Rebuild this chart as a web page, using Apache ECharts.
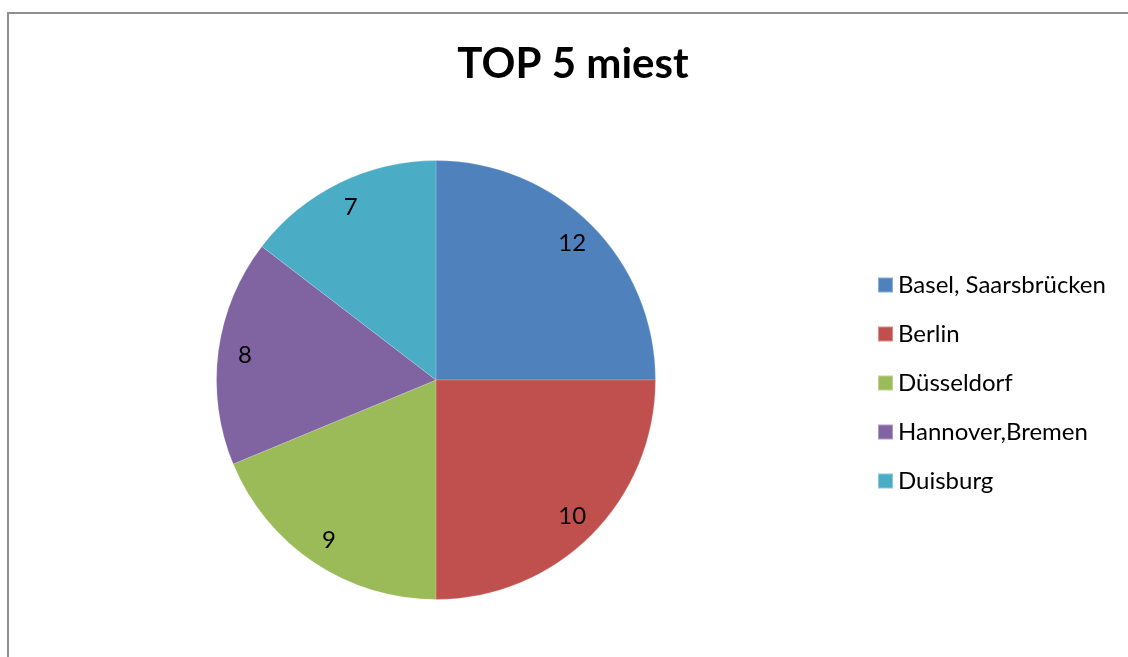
<!DOCTYPE html>
<html>
<head>
<meta charset="utf-8">
<script src="https://cdn.jsdelivr.net/npm/echarts@6/dist/echarts.min.js"></script>
<style>
  html, body { margin: 0; padding: 0; background: #fff; overflow: hidden; }
  #chart { position: absolute; left: 0; top: 0; width: 1128px; height: 657px; }
</style>
</head>
<body>
<div id="chart"></div>
<script>
// Data
const titleText = 'TOP 5 miest';
const categories = ['Basel, Saarsbrücken', 'Berlin', 'Düsseldorf', 'Hannover,Bremen', 'Duisburg'];
// slice sizes as drawn in the picture (angles 90°, 90°, 67.5°, 60°, 52.5°)
const values = [12, 12, 9, 8, 7];
// data labels as printed on the slices
const dataLabels = ['12', '10', '9', '8', '7'];
const colors = ['#4F81BD', '#C0504D', '#9BBB59', '#8064A2', '#4BACC6'];

const FONT = 'Lato, "Open Sans", sans-serif';
const chart = echarts.init(document.getElementById('chart'), null, { renderer: 'canvas' });

const pieData = categories.map((c, i) => ({ name: c, value: values[i], itemStyle: { color: colors[i] } }));
const labelData = categories.map((c, i) => ({ name: c, value: values[i], label: { formatter: dataLabels[i] } }));

chart.setOption({
  animation: false,
  backgroundColor: '#fff',
  graphic: [{
    type: 'polyline',
    silent: true,
    shape: { points: [[8, 700], [8, 13], [1140, 13]] },
    style: { stroke: '#8f8f8f', lineWidth: 2, fill: null }
  }],
  title: {
    text: titleText,
    left: 568,
    top: 38,
    textAlign: 'center',
    textStyle: { fontFamily: FONT, fontWeight: 'bold', fontSize: 42, color: '#000' }
  },
  legend: {
    orient: 'vertical',
    left: 872,
    top: 268,
    itemWidth: 15,
    itemHeight: 15,
    itemGap: 25,
    icon: 'rect',
    selectedMode: false,
    data: categories,
    textStyle: { fontFamily: FONT, fontSize: 24, lineHeight: 23, color: '#000' }
  },
  series: [
    {
      type: 'pie',
      center: [436, 380],
      radius: [0, 219.5],
      startAngle: 90,
      clockwise: true,
      silent: true,
      label: { show: false },
      labelLine: { show: false },
      itemStyle: { borderColor: 'rgba(255,255,255,0.35)', borderWidth: 0.5 },
      data: pieData
    },
    {
      type: 'pie',
      center: [436, 380],
      radius: [160, 219.5],
      startAngle: 90,
      clockwise: true,
      silent: true,
      legendHoverLink: false,
      itemStyle: { color: 'rgba(0,0,0,0)' },
      label: { show: true, position: 'inside', fontFamily: FONT, fontSize: 24, color: '#000' },
      labelLine: { show: false },
      data: labelData
    }
  ]
});
</script>
</body>
</html>
